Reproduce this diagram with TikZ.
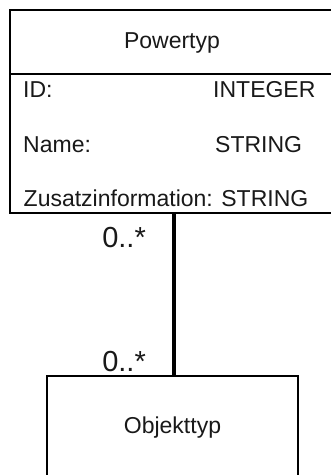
\documentclass[tikz,border=0pt]{standalone}
\usepackage{fontspec}
\setmainfont{Liberation Sans}
\begin{document}
\begin{tikzpicture}[x=1pt,y=-1pt,
  boxline/.style={draw=black,line width=1.3pt},
  umlbox/.style={boxline,rectangle,inner sep=0pt,fill=white},
  txt/.style={inner sep=0pt,font=\fontsize{23}{27}\selectfont,text=black!90},
  multlabel/.style={inner sep=0pt,anchor=base east,font=\fontsize{29}{33}\selectfont,text=black!90},
  assoc/.style={draw=black,line width=3.5pt}]
\useasboundingbox (0,0) rectangle (331,475);
\clip (0,0) rectangle (331,475);
\fill[white] (0,0) rectangle (331,475);
% Powertyp class
\node[umlbox,minimum width=328pt,minimum height=203pt] (power) at (174,111.5) {};
\coordinate (sepL) at (10,74);
\coordinate (sepR) at (338,74);
\draw[boxline] (sepL) -- (sepR);
\node[txt,anchor=base] (ptitle) at (172,48) {Powertyp};
\node[txt,anchor=base west] (aid) at (23,97) {ID:};
\node[txt,anchor=base west] (tid) at (213,97) {INTEGER};
\node[txt,anchor=base west] (aname) at (23,152) {Name:};
\node[txt,anchor=base west] (tname) at (215,152) {STRING};
\node[txt,anchor=base west] (azus) at (23.5,206.5) {Zusatzinformation: STRING};
% Objekttyp class
\node[umlbox,minimum width=251pt,minimum height=102pt] (obj) at (172.5,427) {};
\node[txt,anchor=base] (otitle) at (172.5,433) {Objekttyp};
% association
\coordinate (endB) at (power.south |- obj.north);
\draw[assoc] (power.south) -- (endB);
\node[multlabel] (m1) at (146,247) {0..*};
\node[multlabel] (m2) at (146,371) {0..*};
\end{tikzpicture}
\end{document}
